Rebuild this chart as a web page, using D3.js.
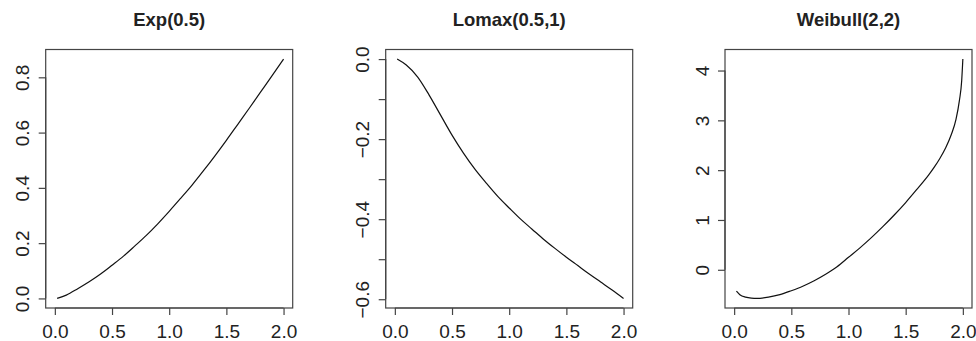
<!DOCTYPE html>
<html><head><meta charset="utf-8">
<script src="https://cdn.jsdelivr.net/npm/d3@7"></script>
<style>
body{margin:0;background:#fff;}
text{font-family:"Liberation Sans",Arial,Helvetica,sans-serif;fill:#222;}
</style></head>
<body><svg id="chart" width="976" height="341"></svg>
<script>
// ---- data ----
const titles = ["Exp(0.5)", "Lomax(0.5,1)", "Weibull(2,2)"];
const xTicks = [0, 0.5, 1, 1.5, 2];
const xTickLabels = ["0.0", "0.5", "1.0", "1.5", "2.0"];

const expX = [0.02,0.1,0.2,0.3,0.4,0.5,0.6,0.7,0.8,0.9,1.0,1.1,1.2,1.3,1.4,1.5,1.6,1.7,1.8,1.9,2.0];
const expY = [0,0.012,0.035,0.06,0.088,0.12,0.153,0.19,0.228,0.27,0.315,0.362,0.41,0.462,0.516,0.572,0.63,0.688,0.747,0.806,0.866];
const expYTicks = [0, 0.2, 0.4, 0.6, 0.8];
const expYLabels = ["0.0", "0.2", "0.4", "0.6", "0.8"];

const lomaxX = [0.02,0.1,0.2,0.3,0.4,0.5,0.6,0.7,0.8,0.9,1.0,1.1,1.2,1.3,1.4,1.5,1.6,1.7,1.8,1.9,2.0];
const lomaxY = [0,-0.015,-0.045,-0.09,-0.14,-0.19,-0.235,-0.275,-0.31,-0.343,-0.372,-0.4,-0.425,-0.45,-0.473,-0.495,-0.516,-0.537,-0.557,-0.577,-0.598];
const lomaxYTicks = [0, -0.1, -0.2, -0.3, -0.4, -0.5, -0.6];
const lomaxYLabels = ["0.0", "", "\u22120.2", "", "\u22120.4", "", "\u22120.6"];

const weibX = [0.02,0.05,0.1,0.15,0.2,0.3,0.4,0.5,0.6,0.7,0.8,0.9,1.0,1.1,1.2,1.3,1.4,1.5,1.6,1.7,1.75,1.8,1.85,1.9,1.94,1.97,1.99,2.0];
const weibY = [-0.43,-0.5,-0.55,-0.57,-0.575,-0.55,-0.5,-0.42,-0.33,-0.22,-0.09,0.06,0.25,0.44,0.645,0.865,1.1,1.35,1.62,1.9,2.06,2.24,2.45,2.72,3.02,3.4,3.8,4.23];
const weibYTicks = [0, 1, 2, 3, 4];
const weibYLabels = ["0", "1", "2", "3", "4"];

// ---- layout ----
const panels = [
  {title: titles[0], xs: expX, ys: expY, yt: expYTicks, yl: expYLabels, left: 45.7},
  {title: titles[1], xs: lomaxX, ys: lomaxY, yt: lomaxYTicks, yl: lomaxYLabels, left: 385.7},
  {title: titles[2], xs: weibX, ys: weibY, yt: weibYTicks, yl: weibYLabels, left: 725}
];
const boxW = 247, boxTop = 49.5, boxBottom = 308;
const svg = d3.select("#chart");

panels.forEach(p => {
  const x = d3.scaleLinear().domain([-0.08, 2.08]).range([p.left, p.left + boxW]);
  const ext = d3.extent(p.ys);
  const pad = (ext[1] - ext[0]) * 0.04;
  const y = d3.scaleLinear().domain([ext[0] - pad, ext[1] + pad]).range([boxBottom, boxTop]);
  const g = svg.append("g");

  // curve
  const pts = p.xs.map((v, i) => [v, p.ys[i]]);
  g.append("path").datum(pts)
    .attr("d", d3.line().x(d => x(d[0])).y(d => y(d[1])).curve(d3.curveMonotoneX))
    .attr("fill", "none").attr("stroke", "#111").attr("stroke-width", 1.2);

  // x axis
  const xa = g.append("g").attr("transform", `translate(0,${boxBottom})`)
    .call(d3.axisBottom(x).tickValues(xTicks).tickSize(7).tickPadding(10)
      .tickFormat((d, i) => xTickLabels[i]));
  xa.select(".domain").attr("d", `M${x(xTicks[0])},0H${x(xTicks[xTicks.length-1])}`).attr("stroke", "#444").attr("stroke-width", 1.2);
  xa.selectAll(".tick line").attr("stroke", "#444").attr("stroke-width", 1.2);
  xa.selectAll(".tick text").attr("font-size", 19).attr("fill", "#222")
    .attr("font-family", "Liberation Sans, Arial, sans-serif");

  // y axis
  const ya = g.append("g").attr("transform", `translate(${p.left},0)`)
    .call(d3.axisLeft(y).tickValues(p.yt).tickSize(7).tickFormat((d, i) => p.yl[i]));
  ya.select(".domain").attr("d", `M0,${y(d3.min(p.yt))}V${y(d3.max(p.yt))}`).attr("stroke", "#444").attr("stroke-width", 1.2);
  ya.selectAll(".tick line").attr("stroke", "#444").attr("stroke-width", 1.2);
  ya.selectAll(".tick text")
    .attr("font-size", 19).attr("fill", "#222")
    .attr("font-family", "Liberation Sans, Arial, sans-serif")
    .attr("x", null).attr("dy", null)
    .attr("text-anchor", "middle")
    .attr("transform", "translate(-16.5,0) rotate(-90)");

  // box
  g.append("rect").attr("x", p.left).attr("y", boxTop).attr("width", boxW).attr("height", boxBottom - boxTop)
    .attr("fill", "none").attr("stroke", "#444").attr("stroke-width", 1.2);

  // title
  g.append("text").attr("x", p.left + boxW / 2).attr("y", 26)
    .attr("text-anchor", "middle").attr("font-weight", "bold").attr("font-size", 18.5)
    .attr("fill", "#111").text(p.title);
});
</script></body></html>
